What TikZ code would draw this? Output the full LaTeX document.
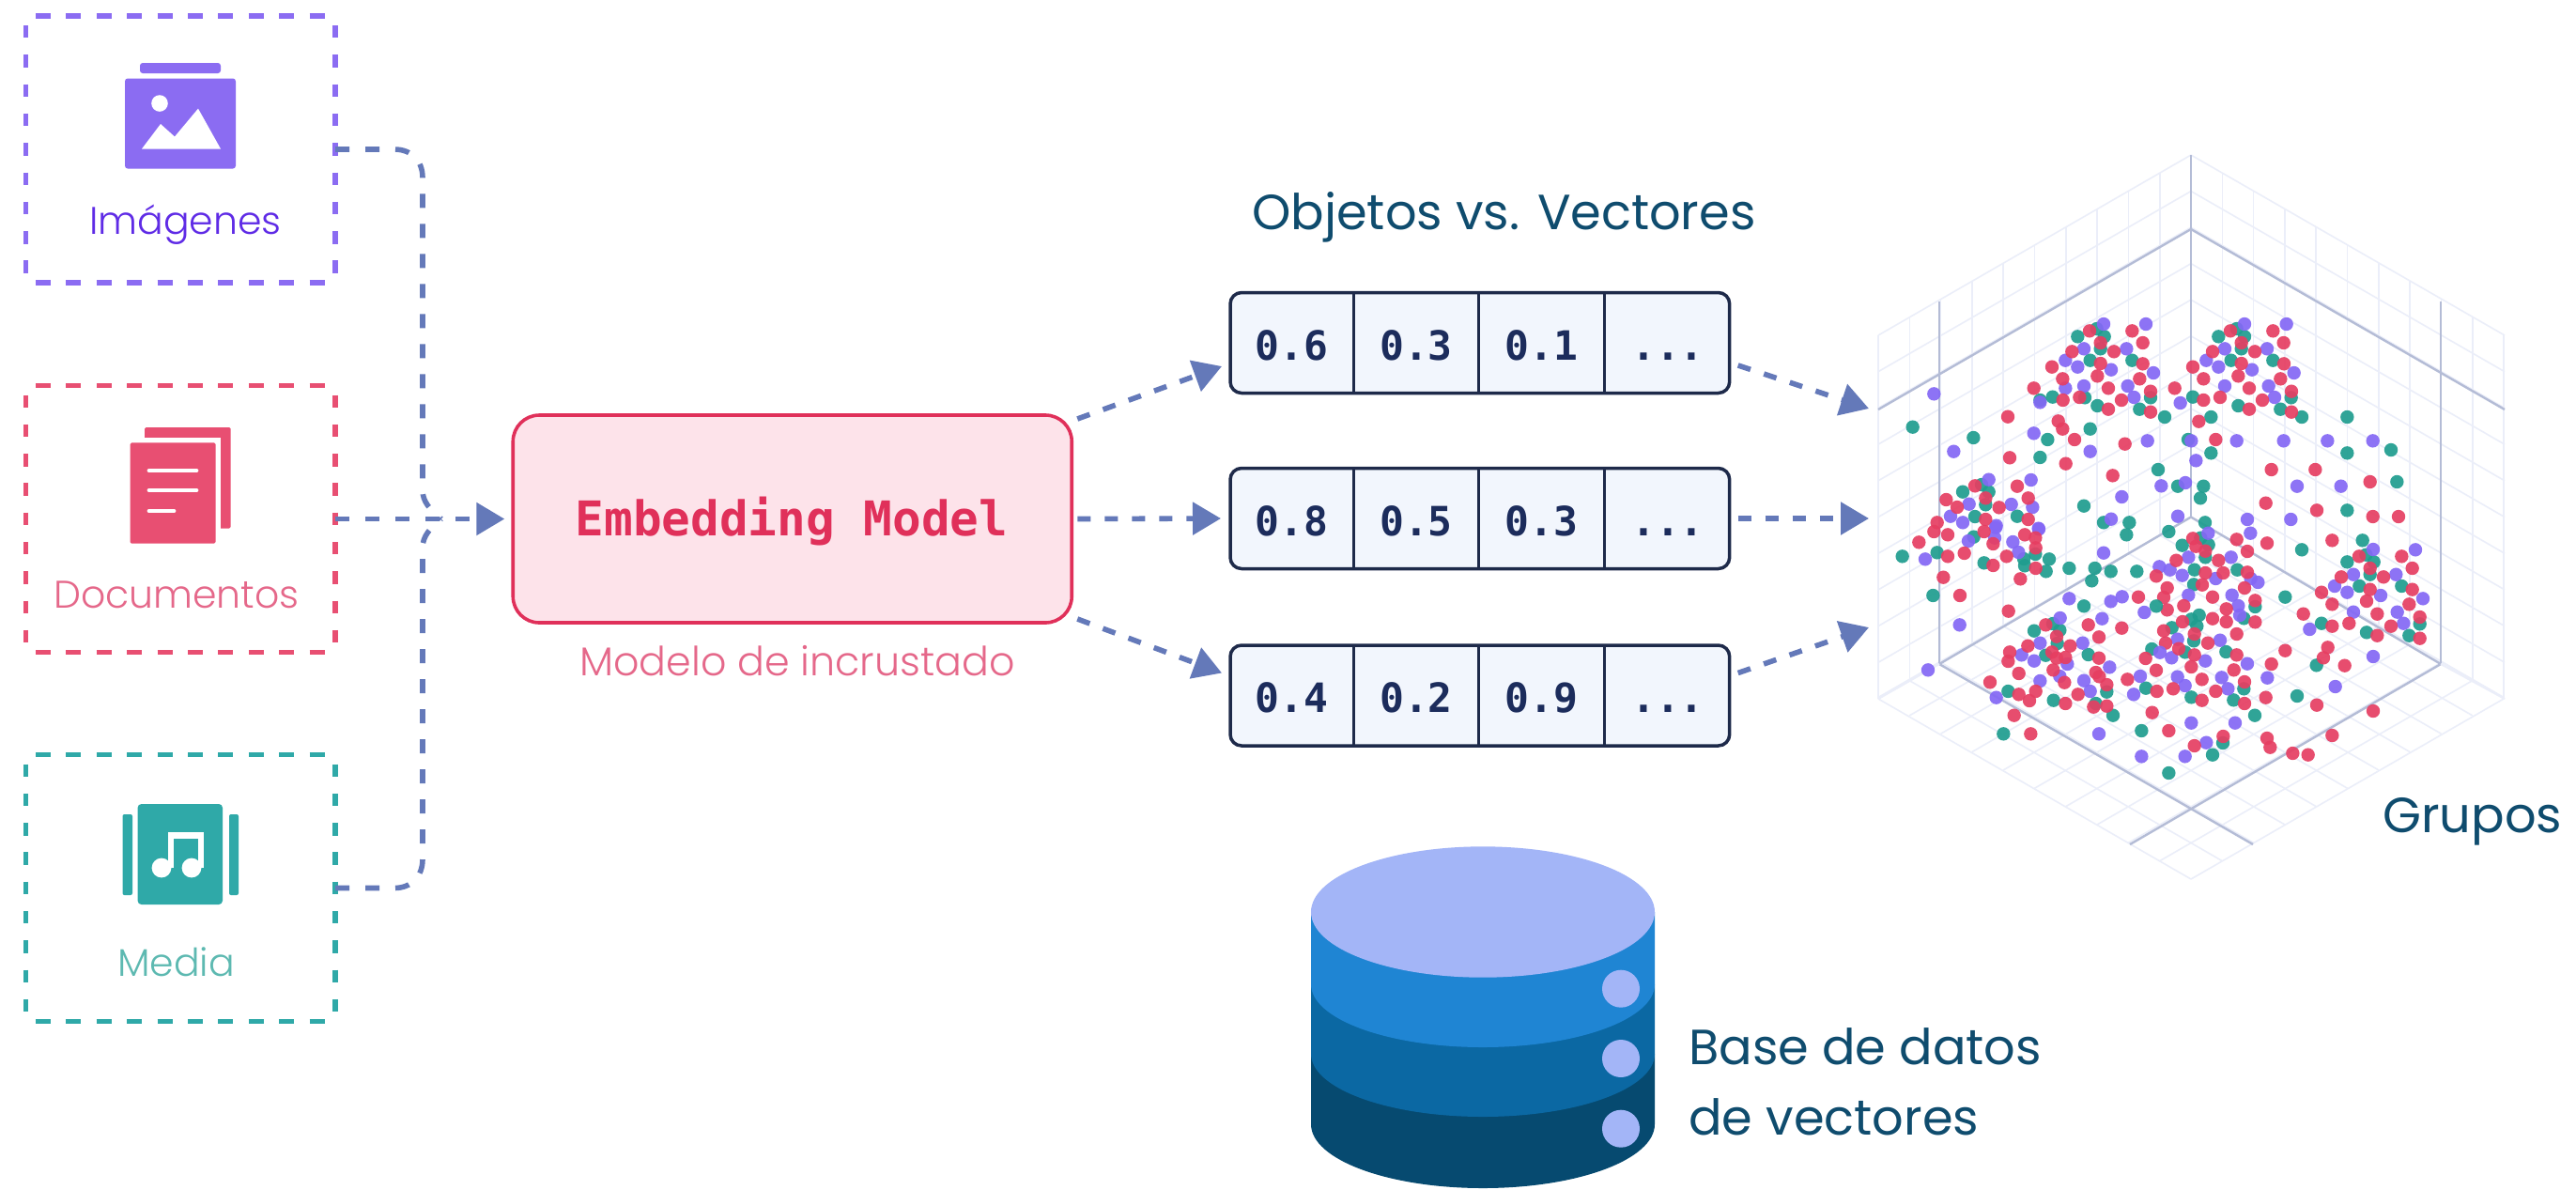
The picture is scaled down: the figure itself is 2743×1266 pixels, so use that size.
\documentclass[tikz,border=0pt]{standalone}
\usepackage{fontspec}
\setmainfont{Poppins}
\newfontfamily\poplight{Poppins Light}
\newfontfamily\monof{DejaVu Sans Mono}
\usetikzlibrary{arrows.meta,calc}
\definecolor{cviolet}{HTML}{8B6CF2}
\definecolor{cvioletT}{HTML}{5F2BE6}
\definecolor{crose}{HTML}{E84F72}
\definecolor{croseT}{HTML}{E5688A}
\definecolor{cteal}{HTML}{2FA9A8}
\definecolor{ctealT}{HTML}{5DB9B1}
\definecolor{cflow}{HTML}{6479B9}
\definecolor{cnavy}{HTML}{0F4C6E}
\definecolor{cmodel}{HTML}{E0305A}
\definecolor{cmodelF}{HTML}{FDE3EA}
\definecolor{cvec}{HTML}{1E2A4A}
\definecolor{cvecF}{HTML}{F2F6FD}
\definecolor{cdig}{HTML}{1C2C5C}
\definecolor{cgl}{HTML}{EBEEF9}
\definecolor{cgd}{HTML}{B4BCD6}
\definecolor{cdbtop}{HTML}{A3B5F7}
\definecolor{cdba}{HTML}{1F85D3}
\definecolor{cdbb}{HTML}{0B68A3}
\definecolor{cdbc}{HTML}{064A70}
\definecolor{cdr}{HTML}{E63E62}
\definecolor{cdp}{HTML}{8468F5}
\definecolor{cdt}{HTML}{1F9D8F}
\newcommand{\dotset}[4]{\foreach \dx/\dy in {#4}{\fill[#1,opacity=.92] ({#2+\dx/3},{#3+\dy/3}) circle (3.6pt);}}
\tikzset{
  srcbox/.style={minimum width=164.75pt,minimum height=142pt,inner sep=0pt,outer sep=0pt},
  hdash/.style={draw=#1,line width=2.8pt,dash pattern=on 8pt off 8.2pt},
  vdash/.style={draw=#1,line width=2.8pt,dash pattern=on 6.7pt off 8.95pt},
  srclabel/.style={anchor=base,text=#1,inner sep=0pt,font=\poplight\fontsize{20.5}{24}\selectfont},
  conn/.style={draw=cflow,line width=2.8pt,dash pattern=on 7.5pt off 8.5pt},
  flow/.style={draw=cflow,line width=2.8pt,dash pattern=on 7pt off 7.5pt,-{Triangle[length=15pt,width=17pt]}},
  vecbox/.style={draw=cvec,fill=cvecF,line width=1.75pt,rounded corners=6pt,minimum width=265.85pt,minimum height=53.5pt,inner sep=0pt,outer sep=0pt},
  vecnum/.style={anchor=base,text=cdig,inner sep=0pt,font=\monof\bfseries\fontsize{21.5}{26}\selectfont},
  headline/.style={anchor=base west,text=cnavy,inner sep=0pt,font=\fontsize{26.3}{30}\selectfont},
  gl/.style={cgl,line width=.8pt},
  gd/.style={cgd,line width=1.2pt}
}
\begin{document}
\begin{tikzpicture}[x=.5pt,y=-.5pt]
\useasboundingbox (0,0) rectangle (2743,1266);
\fill[white] (0,0) rectangle (2743,1266);

%--- source boxes
\node[srcbox] (img) at (192.25,159) {};
\node[srcbox] (doc) at (192.25,552.5) {};
\node[srcbox] (med) at (192.25,945.5) {};
\foreach \b/\c in {img/cviolet,doc/crose,med/cteal}{
  \draw[hdash=\c] ($(\b.north west)+(10.5,0)$) -- ($(\b.north east)+(-10.5,0)$);
  \draw[hdash=\c] ($(\b.south west)+(10.5,0)$) -- ($(\b.south east)+(-10.5,0)$);
  \draw[vdash=\c] ($(\b.north west)+(0,10)$) -- ($(\b.south west)+(0,-10)$);
  \draw[vdash=\c] ($(\b.north east)+(0,10)$) -- ($(\b.south east)+(0,-10)$);
}

% image icon
\fill[cviolet,rounded corners=1.5pt] (149,67) rectangle (235,78);
\fill[cviolet,rounded corners=1.5pt] (133,83.5) rectangle (251,179.5);
\fill[white] (170,110) circle (4.4pt);
\fill[white] (151,158.5) -- (171,132) -- (186,145.5) -- (211,115.6) -- (235,158.5) -- cycle;
\node[srclabel=cvioletT] (limg) at (197.5,249) {Imágenes};

% document icon
\fill[crose,rounded corners=.8pt] (154,455) rectangle (245.7,562.5);
\fill[white] (133,466) rectangle (234.6,584);
\fill[crose,rounded corners=.8pt] (138.5,471.4) rectangle (229.6,578.6);
\draw[white,line width=2.4pt,line cap=round] (159,501) -- (209,501);
\draw[white,line width=2.4pt,line cap=round] (159,522) -- (209,522);
\draw[white,line width=2.4pt,line cap=round] (159,544) -- (185,544);
\node[srclabel=croseT] (ldoc) at (188,647) {Documentos};

% media icon
\fill[cteal,rounded corners=2pt] (146.6,856) rectangle (237,963);
\fill[cteal,rounded corners=1pt] (130.5,867) rectangle (141,953);
\fill[cteal,rounded corners=1pt] (244,867) rectangle (254,953);
\fill[white] (172,924) circle (5.2pt);
\fill[white] (204,924) circle (5.2pt);
\fill[white] (179,886) rectangle (184.5,924);
\fill[white] (211,886) rectangle (216.5,924);
\fill[white] (179,886) rectangle (216.5,893);
\node[srclabel=ctealT] (lmed) at (187.5,1039) {Media};

%--- model
\node[draw=cmodel,fill=cmodelF,line width=1.8pt,rounded corners=14pt,minimum width=297.5pt,minimum height=110.5pt,inner sep=0pt,outer sep=0pt] (model) at (843.75,552.5) {};
\node[text=cmodel,inner sep=0pt,font=\monof\bfseries\fontsize{25.5}{30}\selectfont] (mtext) at (843,555.5) {Embedding Model};
\node[srclabel=croseT,font=\poplight\fontsize{21.4}{24}\selectfont] (lmodel) at (849,719) {Modelo de incrustado};

%--- source connectors
\coordinate (jn) at (470,552.5);
\draw[conn] (img.east) -- (420,159) .. controls (438,159) and (450,171) .. (450,189) -- (450,522) .. controls (450,534) and (458,543) .. (jn);
\draw[conn] (med.east) -- (420,945.5) .. controls (438,945.5) and (450,933) .. (450,915) -- (450,583) .. controls (450,571) and (458,562) .. (jn);
\draw[conn,-{Triangle[length=15pt,width=17pt]}] (doc.east) -- ([xshift=-4.5pt]model.west);

%--- vectors
\node[headline] (lobj) at (1333,244) {Objetos vs. Vectores};
\foreach \n/\cy/\a/\b/\c in {1/365/0.6/0.3/0.1,2/552/0.8/0.5/0.3,3/740.5/0.4/0.2/0.9}{
  \node[vecbox] (vec\n) at (1575.85,\cy) {};
  \draw[cvec,line width=1.5pt] (1441,\cy-53.5) -- (1441,\cy+53.5);
  \draw[cvec,line width=1.5pt] (1574.7,\cy-53.5) -- (1574.7,\cy+53.5);
  \draw[cvec,line width=1.5pt] (1708.5,\cy-53.5) -- (1708.5,\cy+53.5);
  \node[vecnum] (n\n a) at (1375.5,\cy+18) {\a};
  \node[vecnum] (n\n b) at (1508,\cy+18) {\b};
  \node[vecnum] (n\n c) at (1641.5,\cy+18) {\c};
  \node[vecnum] (n\n d) at (1776,\cy+18) {...};
}

%--- flows model -> vectors
\draw[flow] ([xshift=3pt,yshift=-2pt]model.north east) -- ([xshift=-4.5pt,yshift=-12.5pt]vec1.west);
\draw[flow] ([xshift=3pt]model.east) -- ([xshift=-5pt]vec2.west);
\draw[flow] ([xshift=3pt,yshift=2pt]model.south east) -- ([xshift=-4.5pt,yshift=12pt]vec3.west);

%--- grid
\coordinate (gridc) at (2333,550.5);
\foreach \i in {0,...,10}{
  % floor
  \draw[gl] ({2333-33.3*\i},{550.5+19.35*\i}) -- ({2333-33.3*\i+333},{550.5+19.35*\i+192});
  \draw[gl] ({2333+33.3*\i},{550.5+19.35*\i}) -- ({2333+33.3*\i-333},{550.5+19.35*\i+192});
  % left wall verticals and horizontals
  \draw[gl] ({2333-33.3*\i},{165+19.2*\i}) -- ({2333-33.3*\i},{550.5+19.35*\i});
  \draw[gl] (2333,{165+38.55*\i}) -- (2000,{357+38.7*\i});
  % right wall
  \draw[gl] ({2333+33.3*\i},{165+19.2*\i}) -- ({2333+33.3*\i},{550.5+19.35*\i});
  \draw[gl] (2333,{165+38.55*\i}) -- (2667,{357+38.7*\i});
}
\draw[gd] (2333,165) -- (2333,550.5);
\draw[gd] (2065,321) -- (2065,707);
\draw[gd] (2599,321) -- (2599,707);
\draw[gd] (2000,436) -- (2333,244) -- (2667,436);
\draw[gd] (2065,707) -- (2333,550.5) -- (2599,707);
\draw[gd] (2065,707) -- (2399,899);
\draw[gd] (2599,707) -- (2268,899);
\draw[gl,line width=1pt] (2000,744) -- (2065,707);
\draw[gl,line width=1pt] (2667,744) -- (2599,707);

%--- dots: upper left view
\dotset{cdt}{2010}{330}{607/85,668/60,692/85,680/124,647/161,781/161,487/288,527/278,630/280,670/306,840/280,805/317,885/342,80/374,274/408,647/380,511/414,487/471,864/510,240/581,300/558,323/581,313/622,279/660,414/659,627/626,690/679,772/679,275/725}
\dotset{cdp}{2010}{330}{690/45,825/45,627/124,763/124,568/161,607/182,714/191,849/201,568/250,627/243,767/243,787/279,487/295,148/268,467/394,830/418,211/452,647/452,874/562,323/542,458/543,260/620,395/621,463/630,201/659,240/679,347/689,482/698,748/597,714/668,258/738}
\dotset{cdr}{2010}{330}{645/67,781/67,680/105,815/105,589/133,723/133,525/182,680/171,815/172,670/211,559/220,805/220,467/250,705/250,840/260,560/288,613/279,747/288,705/317,840/326,384/341,545/355,559/380,597/414,758/428,390/472,569/491,719/529,279/562,414/563,313/601,187/606,449/601,222/630,356/631,449/669,158/679,313/669,148/708,192/718,100/742}
%--- upper right view
\dotset{cdt}{2300}{330}{187/85,245/60,270/85,260/124,227/161,361/161,105/278,250/306,419/280,385/317,453/342,163/342,598/342,90/414,163/457,598/457,738/447,57/563,139/563,129/601,757/549,598/640,144/679}
\dotset{cdp}{2300}{330}{270/45,404/45,207/124,342/124,148/161,187/182,294/191,428/201,207/243,347/243,366/279,65/297,100/418,245/418,395/418,535/418,680/418,115/481,81/552,438/563,578/563,57/659,279/669,418/669}
\dotset{cdr}{2300}{330}{225/67,361/67,260/105,395/105,168/133,303/133,105/182,260/171,396/172,250/211,139/220,385/220,47/250,285/250,420/260,139/288,192/279,327/288,285/317,420/326,124/356,178/414,356/510,496/510,671/549,338/617,501/640,680/660,762/660}
%--- lower right view
\dotset{cdt}{2300}{560}{28/18,71/62,130/38,155/60,145/100,110/140,247/140,108/187,647/46,453/76,598/115,658/92,683/115,671/155,637/192,772/192,400/227,304/258,268/295,100/298,125/285,118/320,38/325,516/311,830/313,660/340,796/350,108/367,211/402,80/403,500/445,268/520,100/547,235/556,438/543,303/605,201/693,168/731,28/789}
\dotset{cdp}{2300}{560}{154/23,289/23,91/100,227/100,32/140,71/158,178/168,290/168,313/180,681/75,816/76,618/155,754/155,558/192,598/212,705/222,840/232,91/221,230/221,250/255,255/285,618/275,758/275,778/311,478/330,56/362,192/365,37/421,145/431,681/417,279/440,56/482,80/510,197/484,217/520,343/485,560/513,100/629,240/629,148/692,80/736}
\dotset{cdr}{2300}{560}{105/40,115/65,145/80,245/43,342/55,550/46,279/81,52/110,187/110,636/97,772/97,671/135,806/135,145/150,202/150,279/148,579/163,714/163,135/188,270/198,23/198,671/203,806/203,516/212,12/228,168/227,660/240,796/250,304/238,550/250,76/255,23/268,212/265,458/281,694/281,830/291,168/296,72/306,212/306,304/307,550/320,604/311,738/320,12/335,110/345,245/345,694/350,830/359,18/374,153/374,60/392,400/398,536/388,110/412,245/412,522/421,356/441,100/450,590/446,236/460,134/490,270/498,42/520,178/528,338/548,134/557,270/567,501/572,681/591,28/654,202/672,342/678,352/707,550/669,110/702,424/726,473/731}
%--- lower left view
\dotset{cdt}{2110}{560}{172/90,216/106,135/105,138/127,8/118,206/145,280/135,362/135,413/145,496/145,352/175,463/28,558/256,327/256,168/335,228/312,250/333,242/375,205/413,341/411,544/393,525/518,85/528,400/530,230/557,365/567,420/605,70/664,511/654}
\dotset{cdp}{2110}{560}{45/5,42/38,100/51,183/10,118/84,390/86,568/130,280/232,413/241,449/226,520/276,251/294,385/296,187/374,323/374,128/412,168/431,274/441,409/451,570/404,250/480,187/495,507/480,327/494,347/528,486/538,47/548,375/664,511/736}
\dotset{cdr}{2110}{560}{8/18,37/57,138/28,172/38,173/70,80/97,37/126,173/135,124/169,558/160,501/227,86/272,205/316,341/316,448/326,240/353,375/355,148/383,283/383,90/403,225/403,85/432,240/422,268/420,375/422,524/423,558/461,229/460,119/471,365/468,376/481,466/490,265/500,400/507,27/499,173/528,119/538,308/538,560/528,153/558,268/567,358/578,400/575,545/596,104/605,157/664}
%--- far left
\dotset{cdt}{2010}{570}{47/67,158/55,145/192}
\dotset{cdp}{2010}{570}{120/76,230/286,129/430}
\dotset{cdr}{2010}{570}{192/67,245/57,178/134,231/192}

%--- flows vectors -> cloud
\coordinate (cl1) at (1990,435);
\coordinate (cl2) at (1990,552);
\coordinate (cl3) at (1990,668);
\draw[flow] ([xshift=4.5pt,yshift=-12pt]vec1.east) -- (cl1);
\draw[flow] ([xshift=4.5pt]vec2.east) -- (cl2);
\draw[flow] ([xshift=4.5pt,yshift=12pt]vec3.east) -- (cl3);

\node[headline] (lgrp) at (2537,886) {Grupos};

%--- database
\fill[cdbc] (1396,1122) -- (1762,1122) -- (1762,1197) arc[start angle=0,end angle=-180,x radius=91.5pt,y radius=34pt] -- cycle;
\fill[cdbb] (1396,1048) -- (1762,1048) -- (1762,1122) arc[start angle=0,end angle=-180,x radius=91.5pt,y radius=33.5pt] -- cycle;
\fill[cdba] (1396,971) -- (1762,971) -- (1762,1048) arc[start angle=0,end angle=-180,x radius=91.5pt,y radius=33.5pt] -- cycle;
\fill[cdbtop] (1579,971) ellipse[x radius=91.5pt,y radius=34.85pt];
\fill[cdbtop] (1726,1052.7) circle (10pt);
\fill[cdbtop] (1726,1127) circle (10pt);
\fill[cdbtop] (1726,1201.7) circle (10pt);
\node[headline] (ldb1) at (1798,1133) {Base de datos};
\node[headline] (ldb2) at (1798,1208) {de vectores};
\end{tikzpicture}
\end{document}
